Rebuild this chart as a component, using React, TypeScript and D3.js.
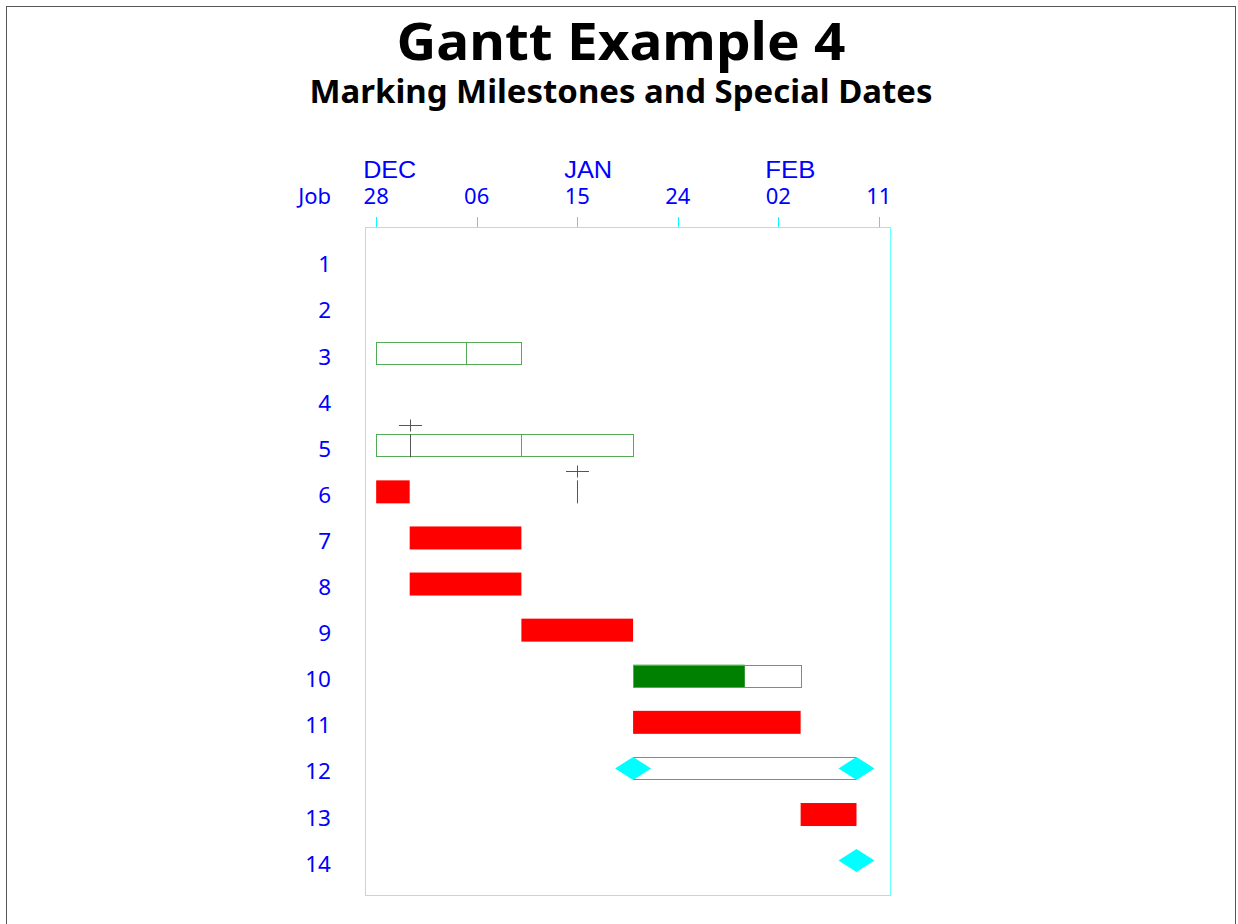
import React from "react";
import * as d3 from "d3";

// rows of the chart
const jobs = [1, 2, 3, 4, 5, 6, 7, 8, 9, 10, 11, 12, 13, 14];

// header ticks
const tickDates = ["2003-12-28", "2004-01-06", "2004-01-15", "2004-01-24", "2004-02-02", "2004-02-11"];
const monthTicks = ["2003-12-28", "2004-01-15", "2004-02-02"];
const monthNames = ["DEC", "JAN", "FEB"];

// [job, start, end)
const outlineBars: [number, string, string][] = [
  [3, "2003-12-28", "2004-01-05"],
  [3, "2004-01-05", "2004-01-10"],
  [5, "2003-12-28", "2004-01-10"],
  [5, "2004-01-10", "2004-01-20"],
  [10, "2004-01-20", "2004-02-04"],
  [12, "2004-01-20", "2004-02-09"],
];
const redBars: [number, string, string][] = [
  [6, "2003-12-28", "2003-12-31"],
  [7, "2003-12-31", "2004-01-10"],
  [8, "2003-12-31", "2004-01-10"],
  [9, "2004-01-10", "2004-01-20"],
  [11, "2004-01-20", "2004-02-04"],
  [13, "2004-02-04", "2004-02-09"],
];
const greenBars: [number, string, string][] = [[10, "2004-01-20", "2004-01-30"]];
const milestones: [number, string][] = [
  [12, "2004-01-20"],
  [12, "2004-02-09"],
  [14, "2004-02-09"],
];
const specialDates: [number, string][] = [
  [5, "2003-12-31"],
  [6, "2004-01-15"],
];

const W = 1238;
const H = 924;
const frame = { left: 365, right: 890, top: 227, bottom: 895 };
const barH = 23;
const day = (s: string) => new Date(s + "T00:00:00Z");

const App = () => {
  const x = d3
    .scaleUtc()
    .domain([day("2003-12-27"), day("2004-02-12")])
    .range([frame.left, frame.right]);
  const y = d3
    .scalePoint<number>()
    .domain(jobs)
    .range([frame.top, frame.bottom])
    .padding(0.746);

  const sans = "'Noto Sans', sans-serif";
  const blue = "#0000ff";
  const outline = "#55aa55";

  const diamond = (cx: number, cy: number) =>
    `M${cx - 18},${cy}L${cx},${cy - barH / 2}L${cx + 18},${cy}L${cx},${cy + barH / 2}Z`;

  return (
    <svg
      width={W}
      height={H}
      style={{ position: "absolute", left: 0, top: 0, background: "#fff" }}
    >
      <rect x={6.5} y={6.5} width={1229} height={1000} fill="none" stroke="#555" />

      <text
        x={621}
        y={60}
        textAnchor="middle"
        fontFamily={sans}
        fontWeight="bold"
        fontSize={52}
        textLength={449}
        lengthAdjust="spacingAndGlyphs"
      >
        Gantt Example 4
      </text>
      <text
        x={621}
        y={103}
        textAnchor="middle"
        fontFamily={sans}
        fontWeight="bold"
        fontSize={32}
        textLength={623}
        lengthAdjust="spacingAndGlyphs"
      >
        Marking Milestones and Special Dates
      </text>

      {/* header */}
      <text x={331} y={204} textAnchor="end" fontFamily={sans} fontSize={22} fill={blue}>
        Job
      </text>
      {tickDates.map((d) => (
        <g key={d}>
          <line
            x1={Math.round(x(day(d))) + 0.5}
            x2={Math.round(x(day(d))) + 0.5}
            y1={217}
            y2={frame.top}
            stroke="#00ffff"
          />
          <text x={x(day(d))} y={204} textAnchor="middle" fontFamily={sans} fontSize={22} fill={blue}>
            {d3.utcFormat("%d")(day(d))}
          </text>
        </g>
      ))}
      {monthTicks.map((d, i) => (
        <text
          key={d}
          x={x(day(d)) - 13}
          y={178}
          fontFamily="'Liberation Sans', Arial, sans-serif"
          fontSize={23}
          textLength={i === 0 ? 53 : i === 1 ? 48 : 50}
          lengthAdjust="spacingAndGlyphs"
          fill={blue}
        >
          {monthNames[i]}
        </text>
      ))}

      <rect
        x={frame.left + 0.5}
        y={frame.top + 0.5}
        width={frame.right - frame.left}
        height={frame.bottom - frame.top}
        fill="none"
        stroke="#66ffff"
      />

      {jobs.map((j) => (
        <text key={j} x={331} y={y(j)! + 11} textAnchor="end" fontFamily={sans} fontSize={22.5} fill={blue}>
          {j}
        </text>
      ))}

      {greenBars.map(([j, s, e], i) => (
        <rect key={"g" + i} x={x(day(s))} y={y(j)! - barH / 2} width={x(day(e)) - x(day(s))} height={barH} fill="#008000" />
      ))}
      {outlineBars.map(([j, s, e], i) => (
        <rect
          key={"o" + i}
          x={Math.round(x(day(s))) + 0.5}
          y={Math.round(y(j)! - barH / 2) + 0.5}
          width={Math.round(x(day(e))) - Math.round(x(day(s)))}
          height={barH - 1}
          fill="none"
          stroke={outline}
        />
      ))}
      {redBars.map(([j, s, e], i) => (
        <rect key={"r" + i} x={x(day(s))} y={y(j)! - barH / 2} width={x(day(e)) - x(day(s))} height={barH} fill="#ff0000" />
      ))}
      {specialDates.map(([j, d], i) => {
        const cx = Math.round(x(day(d))) + 0.5;
        const top = y(j)! - barH / 2;
        const cy = Math.round(top - 9) + 0.5;
        return (
          <g key={"s" + i} stroke="#555" strokeWidth={1} fill="none">
            <line x1={cx - 11.5} x2={cx + 11.5} y1={cy} y2={cy} />
            <line x1={cx} x2={cx} y1={cy - 6} y2={cy + 6} />
            <line x1={cx} x2={cx} y1={top} y2={top + barH} />
          </g>
        );
      })}
      {milestones.map(([j, d], i) => (
        <path key={"m" + i} d={diamond(x(day(d)), y(j)!)} fill="#00ffff" />
      ))}
    </svg>
  );
};

export default App;
